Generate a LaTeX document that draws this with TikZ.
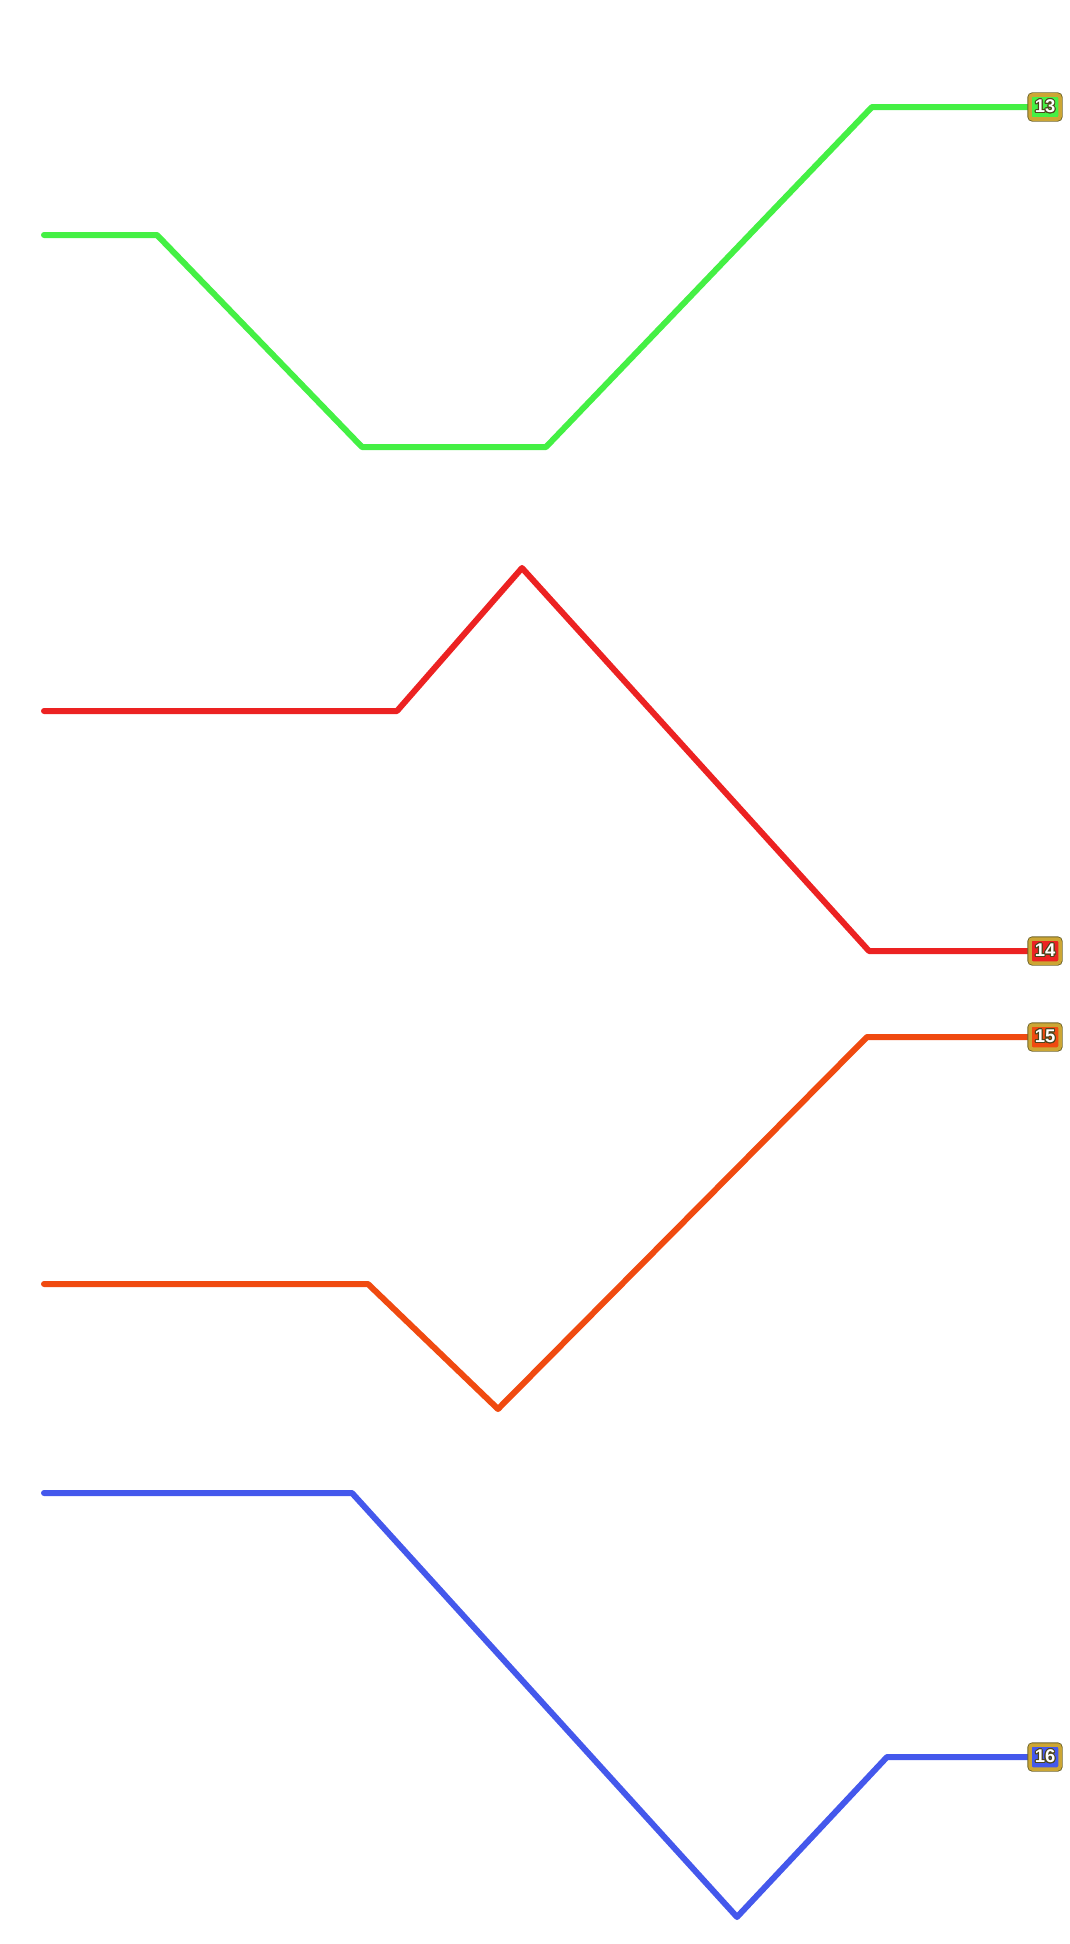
\documentclass[tikz,border=0pt]{standalone}
\usepackage{fontspec}
\newfontfamily\badgefont{Liberation Sans}
\usepackage{contour}
\contourlength{0.6pt}
\usetikzlibrary{backgrounds}
\definecolor{lgreen}{RGB}{68,240,68}
\definecolor{lred}{RGB}{236,34,34}
\definecolor{lorange}{RGB}{240,74,16}
\definecolor{lblue}{RGB}{68,88,236}
\definecolor{gold}{RGB}{204,166,52}
\definecolor{rim}{RGB}{110,100,40}
\tikzset{
track/.style={line width=0.12cm, line cap=round, line join=round, draw=#1},
badge/.style={rectangle, rounded corners=1.5pt, fill=#1, draw=gold, line width=2pt,
  preaction={draw=rim, line width=3pt}, minimum width=0.6cm, minimum height=0.48cm,
  inner sep=0pt, font=\badgefont\bfseries\fontsize{10.5}{10.5}\selectfont, text=white}
}

\begin{document}
\begin{tikzpicture}[x=0.02cm, y=-0.02cm]
\useasboundingbox (0,0) rectangle (1069,1944);
\node[badge=lgreen] (b13) at (1045,107) {\contour{rim!70!black}{13}};
\node[badge=lred] (b14) at (1045,951) {\contour{rim!70!black}{14}};
\node[badge=lorange] (b15) at (1045,1037) {\contour{rim!70!black}{15}};
\node[badge=lblue] (b16) at (1045,1757) {\contour{rim!70!black}{16}};
\coordinate (s13) at (44,235);
\coordinate (s14) at (44,711);
\coordinate (s15) at (44,1284);
\coordinate (s16) at (44,1493);
\begin{pgfonlayer}{background}
\draw[track=lgreen] (s13) -- (157,235) -- (362,447) -- (546,447) -- (872,107) -- (b13.west);
\draw[track=lred] (s14) -- (397,711) -- (522,568) -- (869,951) -- (b14.west);
\draw[track=lorange] (s15) -- (368,1284) -- (498,1409) -- (867,1037) -- (b15.west);
\draw[track=lblue] (s16) -- (352,1493) -- (737,1917) -- (887,1757) -- (b16.west);
\end{pgfonlayer}
\end{tikzpicture}
\end{document}
